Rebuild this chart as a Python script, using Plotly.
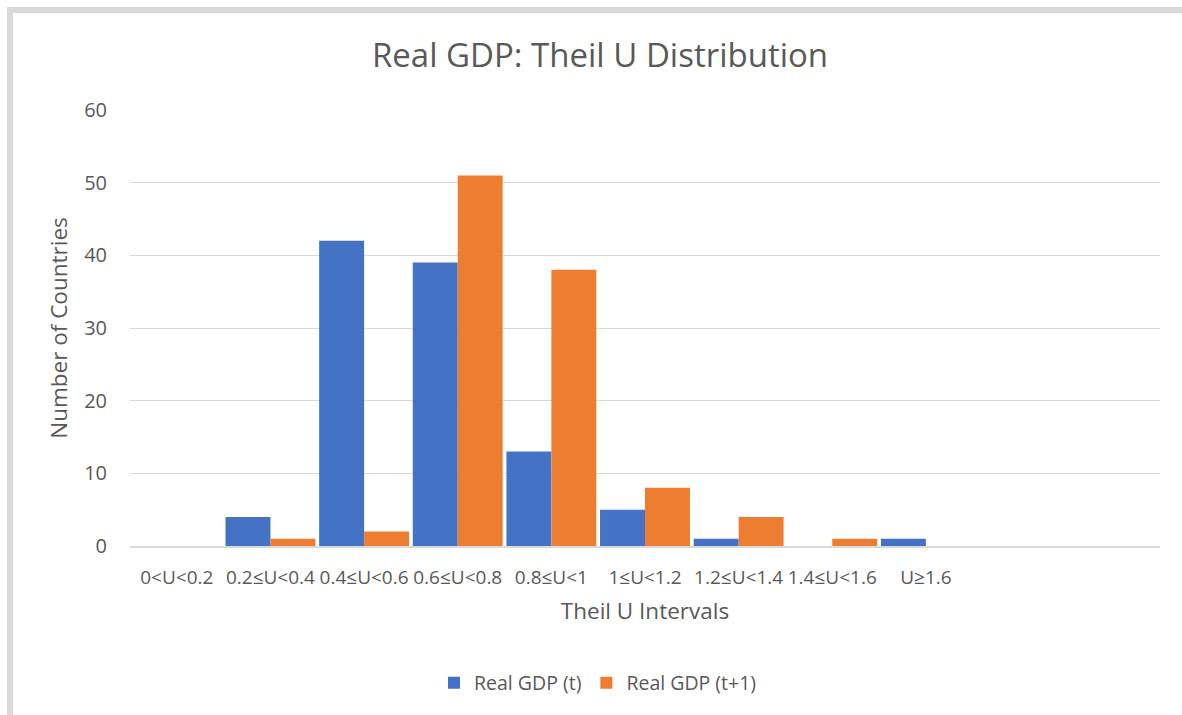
import plotly.graph_objects as go

categories = ["0<U<0.2", "0.2≤U<0.4", "0.4≤U<0.6", "0.6≤U<0.8", "0.8≤U<1",
              "1≤U<1.2", "1.2≤U<1.4", "1.4≤U<1.6", "U≥1.6"]
gdp_t = [0, 4, 42, 39, 13, 5, 1, 0, 1]
gdp_t1 = [0, 1, 2, 51, 38, 8, 4, 1, 0]
y_ticks = [0, 10, 20, 30, 40, 50, 60]

W, H = 1182, 715
L, R, T, B = 130, 22, 110, 169
pw, ph = W - L - R, H - T - B

def px_x(x):
    return (x - L) / pw

def px_y(y):
    return 1 - (y - T) / ph

TEXT = "#595959"
FONT = "Open Sans"

fig = go.Figure()
fig.add_bar(x=categories, y=gdp_t, name="Real GDP (t)", marker_color="#4472C4",
            marker_line_width=0)
fig.add_bar(x=categories, y=gdp_t1, name="Real GDP (t+1)", marker_color="#ED7D31",
            marker_line_width=0)

fig.update_layout(
    width=W, height=H,
    margin=dict(l=L, r=R, t=T, b=B),
    paper_bgcolor="white", plot_bgcolor="white",
    barmode="group", bargap=0.04, bargroupgap=0,
    font=dict(family=FONT, color=TEXT),
    title=dict(text="Real GDP: Theil U Distribution", x=600 / W, xanchor="center",
               y=1 - 55 / H, yanchor="middle",
               font=dict(size=33, color=TEXT, family=FONT)),
    legend=dict(orientation="h", x=px_x(598), xanchor="center", y=px_y(683), yanchor="middle",
                font=dict(size=19.5, color=TEXT), itemwidth=30, traceorder="normal"),
    showlegend=True,
)
fig.update_xaxes(
    type="category", range=[-0.5, 10.5],
    showgrid=False, showline=True, linecolor="#D9D9D9", linewidth=2,
    ticks="", tickfont=dict(size=19, color=TEXT), ticklabelstandoff=13,
    title=dict(text="Theil U Intervals", font=dict(size=22.5, color=TEXT), standoff=14),
)
fig.update_yaxes(
    range=[0, 60], tickvals=y_ticks, showgrid=True, gridcolor="#D9D9D9", gridwidth=1,
    zeroline=False, showline=False, ticks="", tickfont=dict(size=20, color=TEXT),
    ticklabelstandoff=22,
    title=dict(text="Number of Countries", font=dict(size=22.5, color=TEXT), standoff=10),
)

# chart frame border (left and top edges)
border = "#D9D9D9"
fig.add_shape(type="rect", xref="paper", yref="paper",
              x0=px_x(7), x1=px_x(13), y0=px_y(H + 5), y1=px_y(7),
              fillcolor=border, line_width=0, layer="below")
fig.add_shape(type="rect", xref="paper", yref="paper",
              x0=px_x(7), x1=px_x(W + 5), y0=px_y(13), y1=px_y(7),
              fillcolor=border, line_width=0, layer="below")

fig.write_html("out.html")
